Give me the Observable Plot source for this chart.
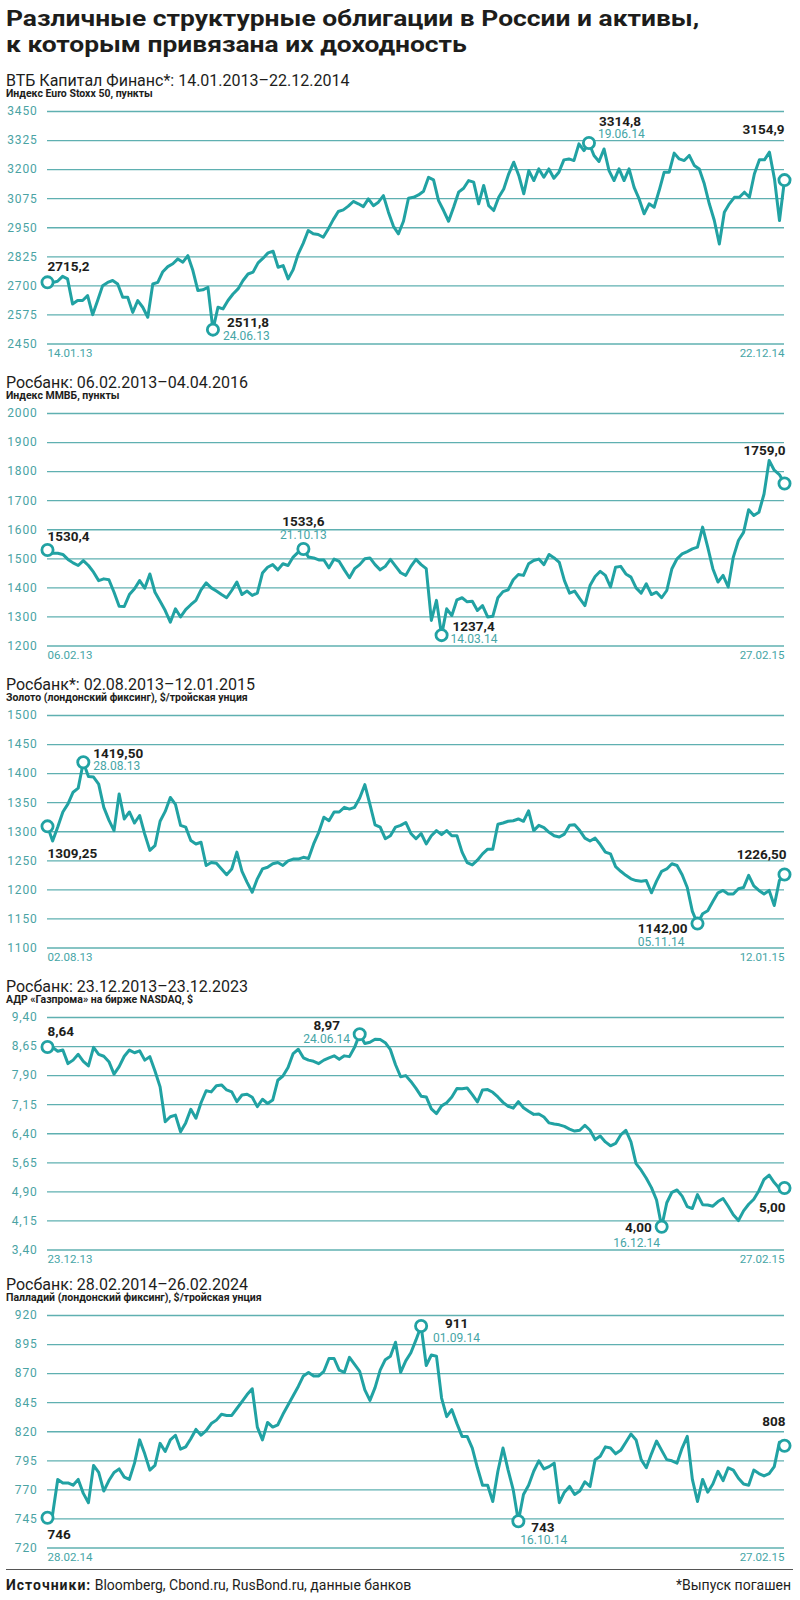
<!DOCTYPE html>
<html><head><meta charset="utf-8">
<script src="https://cdn.jsdelivr.net/npm/d3@7"></script>
<script src="https://cdn.jsdelivr.net/npm/@observablehq/plot@0.6"></script>
<style>
body{margin:0;background:#fff;}
#page{position:relative;width:800px;height:1600px;font-family:Roboto,sans-serif;color:#1d1d1b;overflow:hidden;}
.abs{position:absolute;white-space:nowrap;}
.title{left:6px;font-size:22px;font-weight:700;line-height:26px;height:26px;transform:scaleX(1.2);transform-origin:0 50%;}
.ptitle{left:6px;font-size:16px;line-height:16px;font-weight:400;}
.psub{left:6px;font-size:10.5px;line-height:10.5px;font-weight:700;}
g[aria-label="y-axis tick label"]{fill:#4aa3a4;}
g[aria-label="y-axis tick label"] text{letter-spacing:0.8px;}
.foot{font-size:14px;line-height:14px;}
</style></head>
<body><div id="page"></div>
<script>
// ---------- DATA ----------
const p1Title = "ВТБ Капитал Финанс*: 14.01.2013–22.12.2014";
const p1Sub = "Индекс Euro Stoxx 50, пункты";
const p1Ticks = [2450, 2575, 2700, 2825, 2950, 3075, 3200, 3325, 3450];
const p1AxisDates = ["14.01.13", "22.12.14"];
const p1NoteLabels = ["2715,2", "2511,8", "3314,8", "3154,9"];
const p1NoteDates = ["", "24.06.13", "19.06.14", ""];
const p1Values = [
2715.2,2714,2720,2741,2730,2622,2637,2637,2658,2576,
2637,2701,2715,2723,2708,2651,2651,2586,2637,2608,
2565,2708,2715,2761,2783,2795,2816,2802,2830,2766,
2680,2683,2694,2511.8,2608,2601,2637,2665,2687,2723,
2751,2759,2799,2819,2842,2849,2780,2787,2730,2770,
2837,2883,2938,2924,2921,2909,2945,2985,3020,3027,
3043,3063,3053,3041,3074,3045,3060,3088,3017,2956,
2924,
2978,3077,3081,3091,3107,3167,3156,3067,3024,2978,
3038,3103,3120,3153,3146,3053,3132,3045,3024,3081,
3117,3182,3232,3175,3096,3196,3153,3203,3167,3203,
3163,3189,3242,3246,3239,3311,3282,3314.8,3261,3235,
3289,3196,3153,3203,3153,3203,3124,3074,3010,3053,
3038,3110,3189,3189,3271,3246,3239,3261,3218,3203,
3139,3053,2981,2880,3017,3053,3081,3081,3103,3081,
3182,3242,3242,3275,3160,2981,3154.9];

const p2Title = "Росбанк: 06.02.2013–04.04.2016";
const p2Sub = "Индекс ММВБ, пункты";
const p2Ticks = [1200, 1300, 1400, 1500, 1600, 1700, 1800, 1900, 2000];
const p2AxisDates = ["06.02.13", "27.02.15"];
const p2NoteLabels = ["1530,4", "1533,6", "1237,4", "1759,0"];
const p2NoteDates = ["", "21.10.13", "14.03.14", ""];
const p2Values = [
1530.4,1519,1519,1515,1498,1486,1477,1494,1477,1454,
1425,1431,1428,1385,1337,1336,1377,1397,1425,1399,
1448,1385,1354,1322,1282,1328,1300,1325,1342,1357,
1393,1417,1400,1389,1377,1366,1391,1420,1377,1389,
1374,1382,1451,1471,1480,1462,1483,1477,1506,1523,
1533.6,1506,1503,1496,1496,1469,1499,1491,1462,1435,
1466,1480,1500,1503,1480,1462,1474,1498,1475,1452,
1443,1474,1498,1480,1466,1288,1357,1237.4,1328,1305,
1359,1366,1352,1354,1322,1339,1300,1302,1366,1387,
1393,1428,1446,1443,1483,1494,1499,1480,1515,1503,
1488,1425,1382,1389,1363,1339,1408,1439,1457,1443,
1403,1471,1474,1448,1437,1400,1382,1414,1377,1385,
1366,1391,1466,1500,1517,1525,1534,1540,1609,1540,
1466,1420,1443,1403,1506,1563,1591,1669,1649,1660,
1723,1838,1805,1790,1759.0];

const p3Title = "Росбанк*: 02.08.2013–12.01.2015";
const p3Sub = "Золото (лондонский фиксинг), $/тройская унция";
const p3Ticks = [1100, 1150, 1200, 1250, 1300, 1350, 1400, 1450, 1500];
const p3AxisDates = ["02.08.13", "12.01.15"];
const p3NoteLabels = ["1309,25", "1419,50", "1142,00", "1226,50"];
const p3NoteDates = ["", "28.08.13", "05.11.14", ""];
const p3Values = [
1309.25,1284,1308,1334,1348,1368,1375,1419.5,1395,1394,
1382,1342,1320,1302,1365,1322,1334,1315,1328,1296,
1268,1276,1318,1335,1359,1347,1311,1308,1285,1279,
1282,1242,1247,1246,1236,1226,1236,1265,1232,1213,
1196,1219,1236,1239,1245,1247,1242,1250,1253,1253,
1256,1254,1279,1299,1325,1319,1334,1334,1342,1339,
1342,1358,1381,1347,1312,1308,1288,1293,1308,1311,
1316,1297,1288,1297,1279,1293,1302,1295,1302,1293,
1293,1265,1247,1243,1251,1262,1270,1270,1313,1315,
1318,1319,1322,1318,1336,1302,1311,1307,1299,1293,
1291,1296,1311,1312,1302,1289,1284,1289,1278,1265,
1262,1240,1232,1225,1219,1216,1215,1216,1195,1215,
1232,1236,1245,1242,1226,1204,1163,1142.0,1159,1164,
1180,1195,1199,1193,1193,1202,1204,1225,1207,1199,
1193,1199,1173,1216,1226.5];

const p4Title = "Росбанк: 23.12.2013–23.12.2023";
const p4Sub = "АДР «Газпрома» на бирже NASDAQ, $";
const p4Ticks = [3.40, 4.15, 4.90, 5.65, 6.40, 7.15, 7.90, 8.65, 9.40];
const p4AxisDates = ["23.12.13", "27.02.15"];
const p4NoteLabels = ["8,64", "8,97", "4,00", "5,00"];
const p4NoteDates = ["", "24.06.14", "16.12.14", ""];
const p4Values = [
8.64,8.63,8.53,8.56,8.21,8.30,8.45,8.27,8.15,8.63,
8.45,8.40,8.26,7.94,8.13,8.40,8.56,8.49,8.54,8.30,
8.39,8.02,7.61,6.71,6.84,6.88,6.45,6.68,7.03,6.80,
7.20,7.51,7.48,7.64,7.66,7.53,7.48,7.23,7.40,7.42,
7.34,7.10,7.29,7.18,7.27,7.78,7.89,8.11,8.47,8.58,
8.36,8.30,8.27,8.21,8.30,8.36,8.41,8.32,8.41,8.39,
8.63,8.97,8.73,8.76,8.84,8.83,8.75,8.57,8.18,7.87,
7.90,7.75,7.57,7.37,7.35,7.04,6.92,7.12,7.20,7.35,
7.57,7.56,7.58,7.41,7.22,7.53,7.54,7.47,7.35,7.21,
7.11,7.06,7.23,7.07,6.98,6.90,6.91,6.83,6.68,6.65,
6.63,6.59,6.52,6.47,6.49,6.62,6.49,6.25,6.34,6.19,
6.09,6.15,6.37,6.49,6.19,5.63,5.46,5.25,5.01,4.69,
4.00,4.62,4.89,4.95,4.79,4.52,4.47,4.83,4.57,4.56,
4.53,4.65,4.73,4.53,4.31,4.16,4.41,4.58,4.71,4.93,
5.22,5.33,5.14,4.99,5.00];

const p5Title = "Росбанк: 28.02.2014–26.02.2024";
const p5Sub = "Палладий (лондонский фиксинг), $/тройская унция";
const p5Ticks = [720, 745, 770, 795, 820, 845, 870, 895, 920];
const p5AxisDates = ["28.02.14", "27.02.15"];
const p5NoteLabels = ["746", "911", "743", "808"];
const p5NoteDates = ["", "01.09.14", "16.10.14", ""];
const p5Values = [
746,749,779,776,776,774,779,767,759,791,
785,769,778,785,788,781,779,793,813,801,
787,791,810,803,813,817,805,807,814,822,
817,821,827,830,835,834,834,840,846,852,
857,824,813,828,824,826,835,843,851,859,
868,871,868,868,872,883,883,873,871,884,
878,872,856,847,858,873,882,885,897,871,
881,888,899,911,877,886,885,849,833,839,
827,816,816,806,789,774,774,760,786,806,
787,770,743,766,774,786,795,788,790,793,
759,768,773,766,769,777,773,796,799,807,
806,801,804,811,818,813,796,789,801,812,
804,796,795,793,806,816,779,760,779,768,
775,786,778,789,787,780,775,774,787,784,
782,784,790,811,808];

const mainTitle = ["Различные структурные облигации в России и активы,", "к которым привязана их доходность"];
const sourceLabel = "Источники:";
const sourceText = "Bloomberg, Cbond.ru, RusBond.ru, данные банков";
const footNote = "*Выпуск погашен";

// ---------- STYLE / LAYOUT ----------
const LINE = "#21a2a3", GRID = "#5fb0b1", TEAL = "#45a5a6", DARK = "#1d1d1b";
const page = document.getElementById("page");
function addDiv(cls, top, html, extra) {
  const d = document.createElement("div");
  d.className = "abs " + cls;
  d.style.top = top + "px";
  if (extra) Object.assign(d.style, extra);
  d.innerHTML = html;
  page.appendChild(d);
  return d;
}
addDiv("title", 5.5, mainTitle[0]);
addDiv("title", 31.5, mainTitle[1]);

const comma = d => String(d).replace(".", ",");
const panels = [
  {values: p1Values, ticks: p1Ticks, axisDates: p1AxisDates, labels: p1NoteLabels, dates: p1NoteDates,
   title: p1Title, sub: p1Sub, gridTop: 111, fmt: comma,
   at: v => [0, d3.minIndex(v), d3.maxIndex(v), v.length - 1],
   off: [[0,-16,"start",0,0,"start"],[14,-7,"start",10,7,"start"],[10,-21,"start",9,-9,"start"],[0,-50,"end",0,0,"end"]]},
  {values: p2Values, ticks: p2Ticks, axisDates: p2AxisDates, labels: p2NoteLabels, dates: p2NoteDates,
   title: p2Title, sub: p2Sub, gridTop: 413, fmt: comma,
   at: v => [0, v.indexOf(1533.6), d3.minIndex(v), v.length - 1],
   off: [[0,-13,"start",0,0,"start"],[0,-27,"middle",0,-14,"middle"],[11,-8,"start",9,4,"start"],[1,-33,"end",0,0,"end"]]},
  {values: p3Values, ticks: p3Ticks, axisDates: p3AxisDates, labels: p3NoteLabels, dates: p3NoteDates,
   title: p3Title, sub: p3Sub, gridTop: 715, fmt: comma,
   at: v => [0, d3.maxIndex(v), d3.minIndex(v), v.length - 1],
   off: [[0,27,"start",0,0,"start"],[10,-9,"start",10,4,"start"],[-10,5,"end",-13,19,"end"],[2,-20,"end",0,0,"end"]]},
  {values: p4Values, ticks: p4Ticks, axisDates: p4AxisDates, labels: p4NoteLabels, dates: p4NoteDates,
   title: p4Title, sub: p4Sub, gridTop: 1017, fmt: d => d.toFixed(2).replace(".", ","),
   at: v => [0, d3.maxIndex(v), d3.minIndex(v), v.length - 1],
   off: [[0,-15,"start",0,0,"start"],[-33,-8,"middle",-33,5,"middle"],[-10,1,"end",-25,16,"middle"],[1,20,"end",0,0,"end"]]},
  {values: p5Values, ticks: p5Ticks, axisDates: p5AxisDates, labels: p5NoteLabels, dates: p5NoteDates,
   title: p5Title, sub: p5Sub, gridTop: 1315, fmt: comma,
   at: v => [0, d3.maxIndex(v), d3.minIndex(v), v.length - 1],
   off: [[0,17,"start",0,0,"start"],[24,-2,"start",12,12,"start"],[13,6,"start",2,19,"start"],[1,-24,"end",0,0,"end"]]}
];

const MT = 10, PH = 232.5, MB = 24;
for (const p of panels) {
  addDiv("ptitle", p.gridTop - 38.5, p.title);
  addDiv("psub", p.gridTop - 21.8, p.sub);
  const n = p.values.length;
  const data = p.values.map((v, i) => ({i, v}));
  const idx = p.at(p.values);
  const marks = [
    Plot.ruleY(p.ticks, {stroke: GRID, strokeWidth: 1.3}),
    Plot.line(data, {x: "i", y: "v", stroke: LINE, strokeWidth: 3, strokeLinejoin: "round", strokeLinecap: "round"}),
    Plot.text([{i: 0, v: p.ticks[0]}], {x: "i", y: "v", text: () => p.axisDates[0], textAnchor: "start", dy: 9, fill: TEAL, fontSize: 11.5}),
    Plot.text([{i: n - 1, v: p.ticks[0]}], {x: "i", y: "v", text: () => p.axisDates[1], textAnchor: "end", dy: 9, fill: TEAL, fontSize: 11.5}),
    Plot.dot(idx.map(i => data[i]), {x: "i", y: "v", r: 5.6, fill: "#fff", stroke: LINE, strokeWidth: 2.8})
  ];
  idx.forEach((i, j) => {
    const o = p.off[j];
    marks.push(Plot.text([data[i]], {x: "i", y: "v", text: () => p.labels[j], dx: o[0], dy: o[1], textAnchor: o[2],
      fill: DARK, fontSize: 13.5, fontWeight: 700}));
    if (p.dates[j]) marks.push(Plot.text([data[i]], {x: "i", y: "v", text: () => p.dates[j], dx: o[3], dy: o[4], textAnchor: o[5],
      fill: TEAL, fontSize: 12}));
  });
  const chart = Plot.plot({
    width: 800, height: MT + PH + MB,
    marginLeft: 47, marginRight: 16, marginTop: MT, marginBottom: MB,
    x: {domain: [0, n - 1], axis: null},
    y: {domain: [p.ticks[0], p.ticks[p.ticks.length - 1]], ticks: p.ticks, tickSize: 0, tickPadding: 10,
        tickFormat: p.fmt, label: null},
    style: {fontFamily: "Roboto, sans-serif", fontSize: "12px", background: "transparent", overflow: "visible"},
    marks
  });
  chart.style.position = "absolute";
  chart.style.left = "0px";
  chart.style.top = (p.gridTop - MT) + "px";
  page.appendChild(chart);
}

// footer
addDiv("", 1569, "", {left: "6px", width: "787px", height: "0", borderTop: "1.5px solid #555"});
addDiv("foot", 1578, `<b style="letter-spacing:1px">${sourceLabel}</b> ${sourceText}`, {left: "6px"});
addDiv("foot", 1578, footNote, {right: "9px"});
</script>
</body></html>
